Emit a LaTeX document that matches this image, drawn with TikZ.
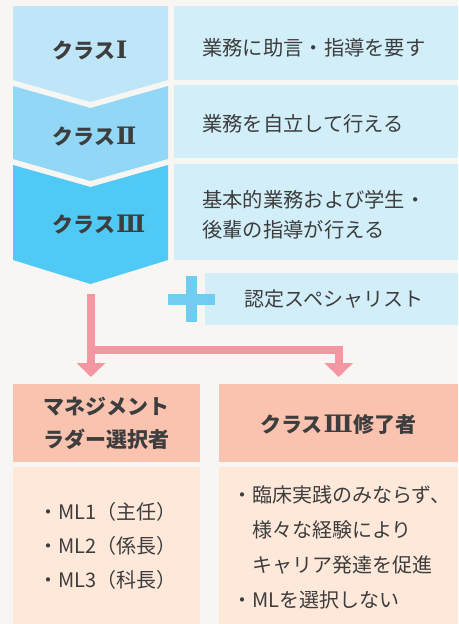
\documentclass[tikz,border=0pt]{standalone}
\usepackage{fontspec}
\setmainfont{Noto Sans CJK JP}
\newfontfamily\numfont{DejaVu Serif}
\usetikzlibrary{arrows.meta}

\definecolor{bg}{HTML}{F7F6F2}
\definecolor{ink}{HTML}{3D3D3D}
\definecolor{chevA}{HTML}{BEE6F8}
\definecolor{chevB}{HTML}{92D7F5}
\definecolor{chevC}{HTML}{50CAF4}
\definecolor{descblue}{HTML}{D2EEF9}
\definecolor{plusblue}{HTML}{6FCDF1}
\definecolor{flowpink}{HTML}{F597A3}
\definecolor{headpink}{HTML}{FAC3B0}
\definecolor{bodypink}{HTML}{FDE8DA}

% roman numerals with bars
\newcommand{\rnum}[1]{\hspace{0.05em}{\numfont\bfseries\fontsize{24}{24}\selectfont #1}\hspace{0.05em}}

\begin{document}
\begin{tikzpicture}[x=1pt,y=-1pt]

\def\chevL{13}
\def\chevR{168}
\def\chevM{90.5}

\tikzstyle{descbox}=[rectangle,fill=descblue,anchor=north west,minimum width=284pt,inner sep=0pt]
\tikzstyle{desctext}=[anchor=west,align=left,text=ink,inner sep=0pt,font=\fontsize{20.3}{30}\selectfont]
\tikzstyle{classlabel}=[text=ink,font=\fontsize{21}{21}\selectfont\bfseries]
\tikzstyle{headbox}=[rectangle,fill=headpink,anchor=north west,minimum height=78pt,inner sep=0pt]
\tikzstyle{bodybox}=[rectangle,fill=bodypink,anchor=north west,minimum height=157pt,inner sep=0pt]
\tikzstyle{headtext}=[align=center,text=ink,font=\fontsize{21}{33}\selectfont\bfseries]
\tikzstyle{flow}=[draw=flowpink,line width=8pt,shorten >=7pt,-{Triangle[width=28pt,length=14pt]}]

\useasboundingbox[fill=bg] (0,0) rectangle (458,624);

%classes
\fill[chevA] (\chevL,6) -- (\chevR,6) -- (\chevR,80) -- (\chevM,102) -- (\chevL,80) -- cycle;
\fill[chevB] (\chevL,86) -- (\chevM,108) -- (\chevR,86) -- (\chevR,159) -- (\chevM,181) -- (\chevL,159) -- cycle;
\fill[chevC] (\chevL,165) -- (\chevM,187) -- (\chevR,165) -- (\chevR,260) -- (\chevM,284) -- (\chevL,260) -- cycle;
\node[classlabel,anchor=west] (c1) at (49,50) {クラス\rnum{Ⅰ}};
\node[classlabel,anchor=west] (c2) at (49,136) {クラス\rnum{Ⅱ}};
\node[classlabel,anchor=west] (c3) at (49,224) {クラス\rnum{Ⅲ}};

%descriptions
\node[descbox,minimum height=74pt] (b1) at (174,6) {};
\node[descbox,minimum height=73pt] (b2) at (174,85) {};
\node[descbox,minimum height=96pt] (b3) at (174,164) {};
\node[desctext] (t1) at (202,48) {業務に助言・指導を要す};
\node[desctext] (t2) at (202,124) {業務を自立して行える};
\node[desctext] (t3) at (202,215) {基本的業務および学生・\\後輩の指導が行える};

%specialist
\node[rectangle,fill=descblue,anchor=north west,minimum width=253pt,minimum height=52pt,inner sep=0pt] (spec) at (205,273) {};
\node[text=ink,font=\fontsize{20}{20}\selectfont] (spectext) at (334,299) {認定スペシャリスト};
\fill[plusblue] (168,294) rectangle (215,305);
\fill[plusblue] (186,276) rectangle (197,322);

%outcomes
\node[headbox,minimum width=187pt] (mgmt) at (13,384) {};
\node[headbox,minimum width=239pt] (fin) at (219,384) {};
\node[headtext] (mgmttext) at (106.5,423.5) {マネジメント\\ラダー選択者};
\node[headtext] (fintext) at (338.5,425) {クラス\rnum{Ⅲ}修了者};

\node[bodybox,minimum width=187pt] (mgmtbody) at (13,467) {};
\node[bodybox,minimum width=239pt] (finbody) at (219,467) {};
\node[desctext,font=\fontsize{20}{34}\selectfont] (mllist) at (38.5,546) {・ML1（主任）\\・ML2（係長）\\・ML3（科長）};
\node[desctext,font=\fontsize{20}{35}\selectfont] (finlist) at (232,547.5) {・臨床実践のみならず、\\\hspace*{1em}様々な経験により\\\hspace*{1em}キャリア発達を促進\\・MLを選択しない};

%connections
\coordinate (start) at (91,294);
\coordinate (bend) at (91,349.5);
\draw[flow] (start) -- (start |- mgmt.north);
\draw[flow] (start) -- (bend) -| (fin.north);

\end{tikzpicture}
\end{document}
